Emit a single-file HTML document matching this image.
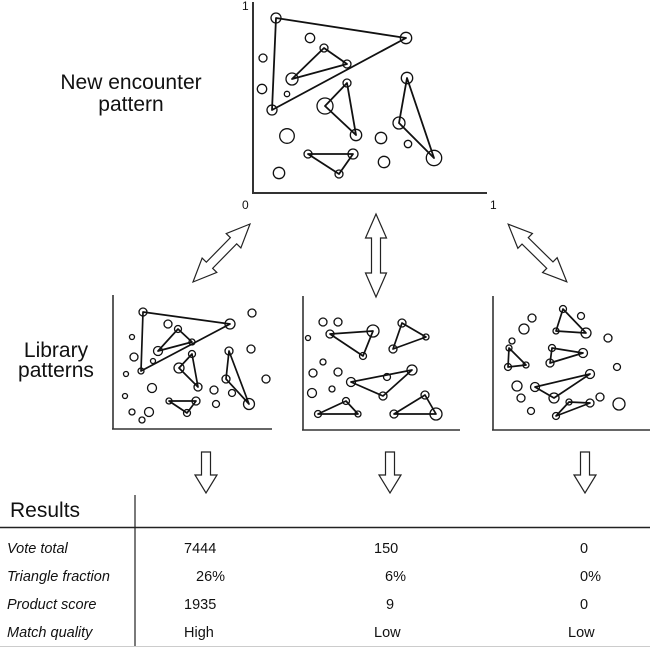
<!DOCTYPE html>
<html><head><meta charset="utf-8"><style>
html,body{margin:0;padding:0;background:#fff;}
svg{display:block;}
text{font-family:"Liberation Sans",Arial,sans-serif;fill:#111;}
</style></head><body>
<svg width="650" height="647" viewBox="0 0 650 647" xmlns="http://www.w3.org/2000/svg">
<g stroke="#333" stroke-width="2" fill="none">
<line x1="253" y1="2" x2="253" y2="193"/>
<line x1="252" y1="193" x2="487" y2="193"/>
</g>
<text x="242" y="10" font-size="12">1</text>
<text x="242" y="209" font-size="12">0</text>
<text x="490" y="209" font-size="12">1</text>
<g stroke="#111" stroke-width="1.8" fill="none" stroke-linejoin="round">
<polygon points="276,18 406,38 272,110"/>
<polygon points="324,48 347,64 292,79"/>
<polygon points="347,83 325,106 356,135"/>
<polygon points="407,78 399,123 434,158"/>
<polygon points="308,154 353,154 339,174"/>
</g>
<g stroke="#111" stroke-width="1.3" fill="none">
<circle cx="276" cy="18" r="5"/>
<circle cx="406" cy="38" r="5.7"/>
<circle cx="310" cy="38" r="4.7"/>
<circle cx="324" cy="48" r="4"/>
<circle cx="347" cy="64" r="4"/>
<circle cx="292" cy="79" r="6"/>
<circle cx="263" cy="58" r="4"/>
<circle cx="262" cy="89" r="4.7"/>
<circle cx="287" cy="94" r="2.7"/>
<circle cx="272" cy="110" r="5"/>
<circle cx="325" cy="106" r="8"/>
<circle cx="347" cy="83" r="4"/>
<circle cx="356" cy="135" r="5.7"/>
<circle cx="407" cy="78" r="5.7"/>
<circle cx="399" cy="123" r="6"/>
<circle cx="408" cy="144" r="3.7"/>
<circle cx="434" cy="158" r="7.7"/>
<circle cx="287" cy="136" r="7.3"/>
<circle cx="381" cy="138" r="5.7"/>
<circle cx="384" cy="162" r="5.7"/>
<circle cx="308" cy="154" r="4"/>
<circle cx="353" cy="154" r="5"/>
<circle cx="339" cy="174" r="4"/>
<circle cx="279" cy="173" r="5.7"/>
</g>
<text x="131" y="89" font-size="21" text-anchor="middle">New encounter</text>
<text x="131" y="111" font-size="21" text-anchor="middle">pattern</text>
<text x="56" y="357" font-size="21" text-anchor="middle">Library</text>
<text x="56" y="377" font-size="21" text-anchor="middle">patterns</text>
<g stroke="#222" stroke-width="1.2" fill="#fff">
<polygon transform="translate(221.5,253) rotate(44.5) scale(0.98)" points="0,-41.5 10.5,-17.5 4.5,-17.5 4.5,17.5 10.5,17.5 0,41.5 -10.5,17.5 -4.5,17.5 -4.5,-17.5 -10.5,-17.5"/>
<polygon transform="translate(376,255.5)" points="0,-41.5 10.5,-17.5 4.5,-17.5 4.5,17.5 10.5,17.5 0,41.5 -10.5,17.5 -4.5,17.5 -4.5,-17.5 -10.5,-17.5"/>
<polygon transform="translate(537.5,253) rotate(-45.5) scale(0.99)" points="0,-41.5 10.5,-17.5 4.5,-17.5 4.5,17.5 10.5,17.5 0,41.5 -10.5,17.5 -4.5,17.5 -4.5,-17.5 -10.5,-17.5"/>
</g>
<g stroke="#333" stroke-width="1.6" fill="none">
<line x1="113" y1="295" x2="113" y2="429"/>
<line x1="112" y1="429" x2="272" y2="429"/>
<line x1="303" y1="296" x2="303" y2="430"/>
<line x1="302" y1="430" x2="460" y2="430"/>
<line x1="493" y1="296" x2="493" y2="430"/>
<line x1="492" y1="430" x2="650" y2="430"/>
</g>
<g stroke="#111" stroke-width="1.7" fill="none" stroke-linejoin="round">
<polygon points="143,312 230,324 141,371"/>
<polygon points="178,329 192,342 158,351"/>
<polygon points="192,354 179,368 198,387"/>
<polygon points="229,351 226,379 249,404"/>
<polygon points="169,401 196,401 187,413"/>
<polygon points="330,334 373,331 363,356"/>
<polygon points="402,323 426,337 393,349"/>
<polygon points="351,382 412,370 383,396"/>
<polygon points="318,414 346,401 358,414"/>
<polygon points="394,414 425,395 436,414"/>
<polygon points="563,309 586,333 556,331"/>
<polygon points="509,348 526,365 508,367"/>
<polygon points="552,348 583,353 550,363"/>
<polygon points="535,387 590,374 554,398"/>
<polygon points="569,402 590,403 556,416"/>
</g>
<g stroke="#111" stroke-width="1.3" fill="none">
<circle cx="143" cy="312" r="4"/>
<circle cx="230" cy="324" r="5"/>
<circle cx="252" cy="313" r="4"/>
<circle cx="168" cy="324" r="4"/>
<circle cx="178" cy="329" r="3.5"/>
<circle cx="192" cy="342" r="3"/>
<circle cx="158" cy="351" r="4.5"/>
<circle cx="132" cy="337" r="2.5"/>
<circle cx="134" cy="357" r="4"/>
<circle cx="153" cy="361" r="2.5"/>
<circle cx="141" cy="371" r="3"/>
<circle cx="126" cy="374" r="2.5"/>
<circle cx="192" cy="354" r="3.5"/>
<circle cx="179" cy="368" r="5"/>
<circle cx="198" cy="387" r="4"/>
<circle cx="152" cy="388" r="4.5"/>
<circle cx="125" cy="396" r="2.5"/>
<circle cx="214" cy="390" r="4"/>
<circle cx="232" cy="393" r="3.5"/>
<circle cx="216" cy="404" r="3.5"/>
<circle cx="229" cy="351" r="4"/>
<circle cx="226" cy="379" r="4"/>
<circle cx="249" cy="404" r="5.5"/>
<circle cx="251" cy="349" r="4"/>
<circle cx="266" cy="379" r="4"/>
<circle cx="169" cy="401" r="3"/>
<circle cx="196" cy="401" r="4"/>
<circle cx="187" cy="413" r="3.5"/>
<circle cx="132" cy="412" r="3"/>
<circle cx="149" cy="412" r="4.5"/>
<circle cx="142" cy="420" r="3"/>
<circle cx="323" cy="322" r="4"/>
<circle cx="338" cy="322" r="4"/>
<circle cx="308" cy="338" r="2.5"/>
<circle cx="330" cy="334" r="4"/>
<circle cx="373" cy="331" r="6"/>
<circle cx="363" cy="356" r="3.5"/>
<circle cx="402" cy="323" r="4"/>
<circle cx="426" cy="337" r="3"/>
<circle cx="393" cy="349" r="4"/>
<circle cx="323" cy="362" r="3"/>
<circle cx="313" cy="373" r="4"/>
<circle cx="338" cy="372" r="4"/>
<circle cx="332" cy="389" r="3"/>
<circle cx="312" cy="393" r="4.5"/>
<circle cx="351" cy="382" r="4.5"/>
<circle cx="387" cy="377" r="3.5"/>
<circle cx="412" cy="370" r="5"/>
<circle cx="383" cy="396" r="4"/>
<circle cx="346" cy="401" r="3.5"/>
<circle cx="318" cy="414" r="3.5"/>
<circle cx="358" cy="414" r="3"/>
<circle cx="394" cy="414" r="4"/>
<circle cx="425" cy="395" r="4"/>
<circle cx="436" cy="414" r="6"/>
<circle cx="563" cy="309" r="3.5"/>
<circle cx="581" cy="316" r="3.5"/>
<circle cx="532" cy="318" r="4"/>
<circle cx="524" cy="329" r="5"/>
<circle cx="556" cy="331" r="3"/>
<circle cx="586" cy="333" r="5"/>
<circle cx="608" cy="338" r="4"/>
<circle cx="512" cy="341" r="3"/>
<circle cx="509" cy="348" r="3"/>
<circle cx="552" cy="348" r="3.5"/>
<circle cx="583" cy="353" r="4.5"/>
<circle cx="550" cy="363" r="4"/>
<circle cx="508" cy="367" r="3.5"/>
<circle cx="526" cy="365" r="3"/>
<circle cx="617" cy="367" r="3.5"/>
<circle cx="590" cy="374" r="4.5"/>
<circle cx="517" cy="386" r="5"/>
<circle cx="535" cy="387" r="4.5"/>
<circle cx="521" cy="398" r="4"/>
<circle cx="554" cy="398" r="5"/>
<circle cx="569" cy="402" r="3"/>
<circle cx="590" cy="403" r="4"/>
<circle cx="600" cy="397" r="4"/>
<circle cx="619" cy="404" r="6"/>
<circle cx="531" cy="411" r="3.5"/>
<circle cx="556" cy="416" r="3.5"/>
</g>
<g stroke="#222" stroke-width="1.2" fill="#fff">
<polygon points="201.5,452 210.5,452 210.5,475 217,475 206,493 195,475 201.5,475"/>
<polygon points="385.5,452 394.5,452 394.5,475 401,475 390,493 379,475 385.5,475"/>
<polygon points="580.5,452 589.5,452 589.5,475 596,475 585,493 574,475 580.5,475"/>
</g>
<g stroke="#222" fill="none">
<line x1="0" y1="527.5" x2="650" y2="527.5" stroke-width="1.4"/>
<line x1="135" y1="495" x2="135" y2="647" stroke-width="1.2"/>
<line x1="0" y1="646.5" x2="650" y2="646.5" stroke="#ccc" stroke-width="1"/>
</g>
<text x="10" y="517" font-size="21">Results</text>
<g font-size="14.5">
<text x="7" y="553" font-style="italic">Vote total</text>
<text x="7" y="581" font-style="italic">Triangle fraction</text>
<text x="7" y="609" font-style="italic">Product score</text>
<text x="7" y="637" font-style="italic">Match quality</text>
<text x="184" y="553">7444</text>
<text x="196" y="581">26%</text>
<text x="184" y="609">1935</text>
<text x="184" y="637">High</text>
<text x="374" y="553">150</text>
<text x="385" y="581">6%</text>
<text x="386" y="609">9</text>
<text x="374" y="637">Low</text>
<text x="580" y="553">0</text>
<text x="580" y="581">0%</text>
<text x="580" y="609">0</text>
<text x="568" y="637">Low</text>
</g>
</svg>
</body></html>
